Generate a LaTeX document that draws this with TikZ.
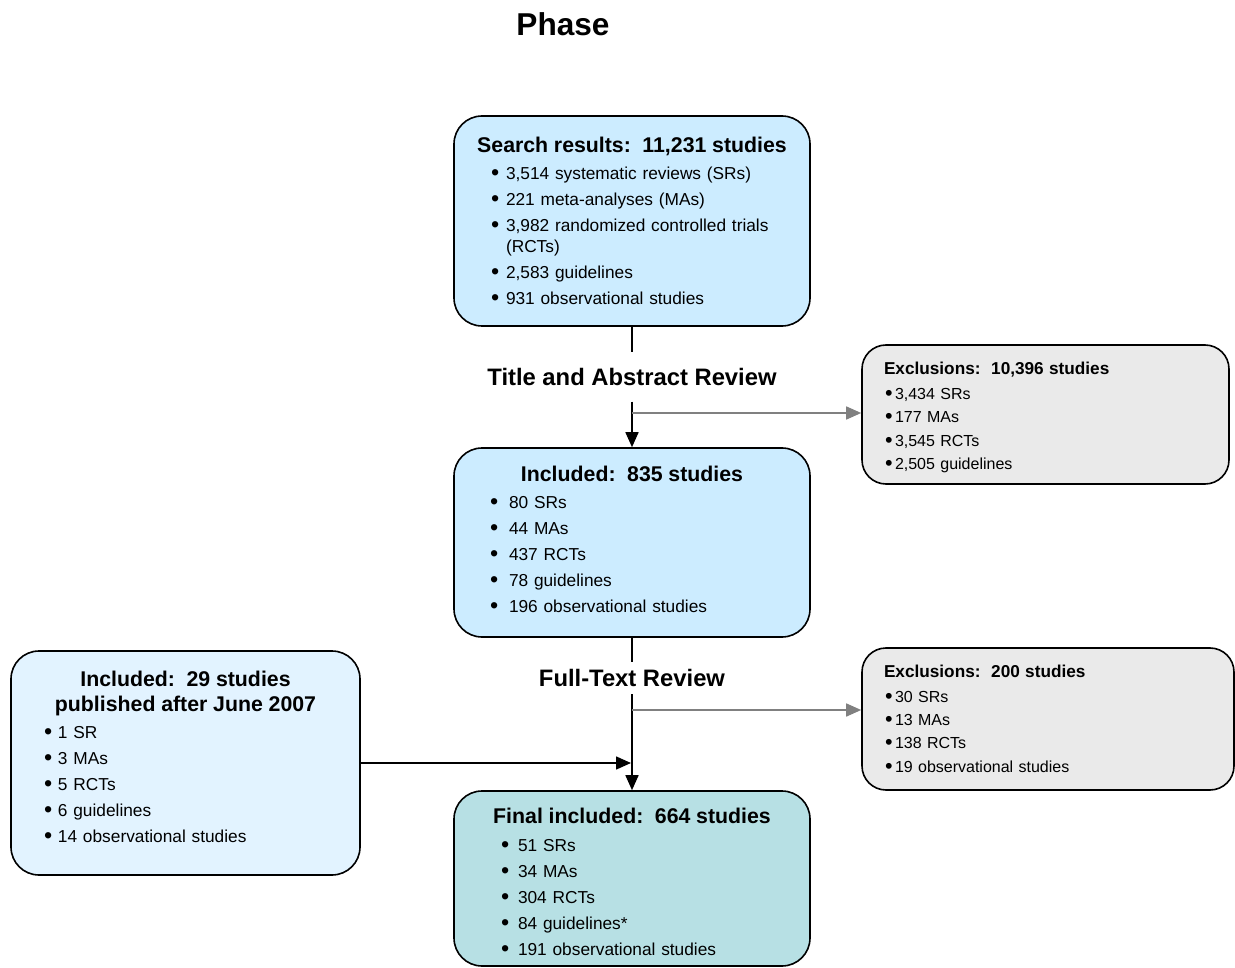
\documentclass[tikz,border=0pt]{standalone}
\usepackage{fontspec}
\setmainfont{Liberation Sans}
\usetikzlibrary{arrows.meta}
\definecolor{paleblue}{RGB}{204,236,255}
\definecolor{lightblue}{RGB}{226,243,255}
\definecolor{paleteal}{RGB}{183,224,228}
\definecolor{palegray}{RGB}{234,234,234}
\newlength{\bx}
\newlength{\bg}
\newcommand{\itm}[1]{\hspace*{\bx}\makebox[\bg][l]{\raisebox{-0.8pt}{\scalebox{1.35}{\textbullet}}}#1}
\newcommand{\hd}[1]{\makebox[\linewidth][c]{\fontsize{21.3}{24}\selectfont\bfseries #1}}
\newcommand{\xhd}[1]{\hspace*{22pt}{\fontsize{17.2}{20}\selectfont\bfseries #1}}
\newcommand{\tall}[1]{\rule{0pt}{#1}}
\newcommand{\deep}[1]{\rule[-#1]{0pt}{#1}}

\begin{document}
\begin{tikzpicture}[x=1pt,y=-1pt,
  box/.style={draw,line width=1.6pt,rounded corners=28pt,inner xsep=0pt,inner ysep=0pt,
              align=left,font=\fontsize{17.3}{26}\selectfont},
  lst/.style 2 args={execute at begin node={\setlength{\parindent}{0pt}\setlength{\bx}{#1}\setlength{\bg}{#2}}},
  xbox/.style={box,fill=palegray,rounded corners=24pt,font=\fontsize{16}{23.3}\selectfont},
  lbl/.style={font=\fontsize{23.8}{26}\selectfont\bfseries,inner xsep=4pt,inner ysep=0pt},
  arr/.style={-{Triangle[length=15pt,width=13pt]},line width=1.6pt},
  garr/.style={arr,draw=gray,fill=gray}]
  \useasboundingbox (0,0) rectangle (1235,968);
  \node[font=\fontsize{31.6}{34}\selectfont\bfseries] (ph) at (563,24) {Phase};

  \node[box,fill=paleblue,text width=356pt,minimum height=210pt,lst={37pt}{15pt}] (sr) at (632,221)
    {\hd{Search results:\ \ 11,231 studies}\\[1pt]
     \itm{3,514 systematic reviews (SRs)}\\
     \itm{221 meta-analyses (MAs)}\\
     \itm{3,982 randomized controlled trials}\\[-5pt]
     \hspace*{\bx}\hspace*{\bg}(RCTs)\\
     \itm{2,583 guidelines}\\
     \itm{931 observational studies}};
  \node[lbl,minimum height=49pt] (ta) at (632,377) {Title and Abstract Review};
  \node[box,fill=paleblue,text width=356pt,minimum height=189pt,lst={36pt}{19pt}] (inc) at (632,542.5)
    {\hd{Included:\ \ 835 studies}\\[1pt]
     \itm{80 SRs}\\
     \itm{44 MAs}\\
     \itm{437 RCTs}\\
     \itm{78 guidelines}\\
     \itm{196 observational studies}\deep{6pt}};
  \node[xbox,text width=367pt,minimum height=139pt,lst={23pt}{10pt}] (ex1) at (1045.5,414.5)
    {\xhd{\tall{18.6pt}Exclusions:\ \ 10,396 studies}\\[1.7pt]
     \itm{3,434 SRs}\\
     \itm{177 MAs}\\
     \itm{3,545 RCTs}\\
     \itm{2,505 guidelines}};
  \node[lbl,minimum height=32pt] (ft) at (632,678) {Full-Text Review};
  \node[xbox,text width=372pt,minimum height=142pt,lst={23pt}{10pt}] (ex2) at (1048,719)
    {\xhd{Exclusions:\ \ 200 studies}\\[1.7pt]
     \itm{30 SRs}\\
     \itm{13 MAs}\\
     \itm{138 RCTs}\\
     \itm{19 observational studies}};
  \node[box,fill=lightblue,text width=349pt,minimum height=224pt,lst={33pt}{14pt}] (up) at (185.5,763)
    {\hd{Included:\ \ 29 studies}\\[-1pt]
     \hd{published after June 2007}\\[1pt]
     \itm{1 SR}\\
     \itm{3 MAs}\\
     \itm{5 RCTs}\\
     \itm{6 guidelines}\\
     \itm{14 observational studies}\deep{12pt}};
  \node[box,fill=paleteal,text width=356pt,minimum height=175pt,lst={47pt}{17pt}] (fin) at (632,878.5)
    {\hd{\tall{22.6pt}Final included:\ \ 664 studies}\\[2pt]
     \itm{51 SRs}\\
     \itm{34 MAs}\\
     \itm{304 RCTs}\\
     \itm{84 guidelines*}\\
     \itm{191 observational studies}};

  \coordinate (j1) at (632,413);
  \coordinate (j2) at (632,710);
  \coordinate (j3) at (632,763);
  \draw[line width=1.6pt] (sr) -- (ta);
  \draw[arr] (ta) -- (inc);
  \draw[garr] (j1) -- (j1 -| ex1.west);
  \draw[line width=1.6pt] (inc) -- (ft);
  \draw[arr] (ft) -- (fin);
  \draw[garr] (j2) -- (j2 -| ex2.west);
  \draw[arr,shorten >=1pt] (up) -- (j3);
\end{tikzpicture}
\end{document}
